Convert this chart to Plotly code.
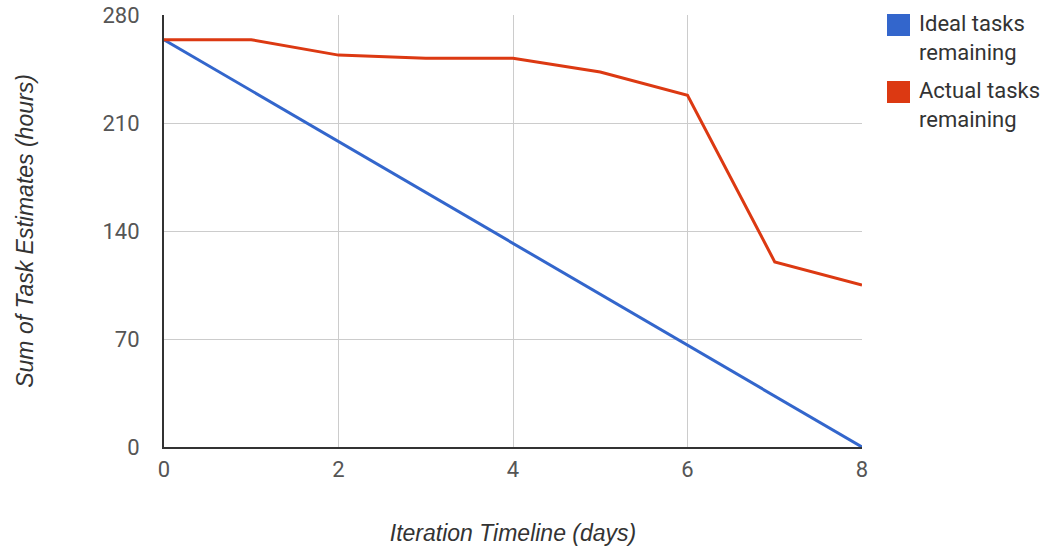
import plotly.graph_objects as go

days = [0, 1, 2, 3, 4, 5, 6, 7, 8]
ideal_remaining = [264, 231, 198, 165, 132, 99, 66, 33, 0]
actual_remaining = [264, 264, 254, 252, 252, 243, 228, 120, 105]
series_names = ["Ideal tasks<br>remaining", "Actual tasks<br>remaining"]
series_colors = ["#3366cc", "#dc3912"]
x_ticks = [0, 2, 4, 6, 8]
y_ticks = [0, 70, 140, 210, 280]

W, H = 1045, 546
L, R, T, B = 164, 183, 15, 99
PW, PH = W - L - R, H - T - B


def px(x):
    return (x - L) / PW


def py(y):
    return (H - B - y) / PH


fig = go.Figure()
fig.add_trace(go.Scatter(x=days, y=ideal_remaining, mode="lines",
                         line=dict(color=series_colors[0], width=3),
                         showlegend=False, hoverinfo="x+y"))
fig.add_trace(go.Scatter(x=days, y=actual_remaining, mode="lines",
                         line=dict(color=series_colors[1], width=3),
                         showlegend=False, hoverinfo="x+y"))

shapes = []
annotations = []
leg_tops = [14, 81]
for i, (name, col) in enumerate(zip(series_names, series_colors)):
    top = leg_tops[i]
    shapes.append(dict(type="rect", xref="paper", yref="paper",
                       x0=px(887), x1=px(910), y0=py(top + 22), y1=py(top),
                       fillcolor=col, line=dict(width=0)))
    annotations.append(dict(xref="paper", yref="paper", x=px(917), y=py(top - 5),
                            xanchor="left", yanchor="top", align="left",
                            text=name, showarrow=False,
                            font=dict(family="Roboto", size=22, color="#333333")))

fig.update_layout(
    width=W, height=H,
    margin=dict(l=L, r=R, t=T, b=B),
    paper_bgcolor="white", plot_bgcolor="white",
    showlegend=False,
    shapes=shapes,
    annotations=annotations,
    font=dict(family="Roboto", size=22, color="#444444"),
    xaxis=dict(range=[0, 8], tickvals=x_ticks, ticktext=[str(v) for v in x_ticks],
               showgrid=True, gridcolor="#cccccc", gridwidth=1,
               showline=True, linecolor="#333333", linewidth=2,
               zeroline=False, ticks="", automargin=False, ticklabelstandoff=2,
               tickfont=dict(family="Roboto", size=22, color="#555555"),
               title=dict(text="Iteration Timeline (days)", standoff=44,
                          font=dict(family="Liberation Sans", size=23, color="#333333",
                                    style="italic"))),
    yaxis=dict(range=[0, 280], tickvals=y_ticks, ticktext=[str(v) for v in y_ticks],
               showgrid=True, gridcolor="#cccccc", gridwidth=1,
               showline=True, linecolor="#333333", linewidth=2,
               zeroline=False, ticks="", automargin=False, ticklabelstandoff=18,
               tickfont=dict(family="Roboto", size=22, color="#555555"),
               title=dict(text="Sum of Task Estimates (hours)", standoff=62,
                          font=dict(family="Liberation Sans", size=23, color="#333333",
                                    style="italic"))),
)

fig.write_html("out.html")
